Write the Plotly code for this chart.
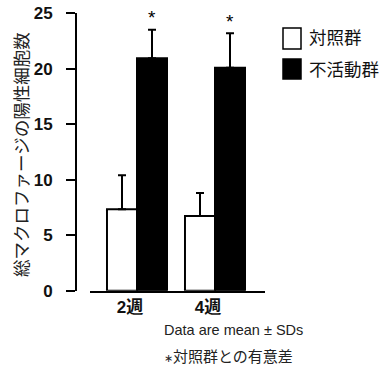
import plotly.graph_objects as go

categories = ["2週", "4週"]
control_mean = [7.33, 6.73]
control_sd = [3.07, 2.07]
inactive_mean = [20.96, 20.1]
inactive_sd = [2.55, 3.1]
y_ticks = [0, 5, 10, 15, 20, 25]
series_names = ["対照群", "不活動群"]

W, H = 382, 366
LAT = "Liberation Sans, Arial, 'Noto Sans CJK JP', sans-serif"
CJK = "'Noto Sans CJK JP', sans-serif"

def px(x):
    return x / W

def py(y):
    return 1 - y / H

bargap = 0.23
fig = go.Figure()
fig.add_bar(
    x=categories, y=control_mean, name=series_names[0],
    marker=dict(color="white", line=dict(color="black", width=2)),
    error_y=dict(type="data", array=control_sd, arrayminus=[0] * len(control_sd),
                 symmetric=False, color="black", thickness=2, width=4),
)
fig.add_bar(
    x=categories, y=inactive_mean, name=series_names[1],
    marker=dict(color="black", line=dict(color="black", width=2)),
    error_y=dict(type="data", array=inactive_sd, arrayminus=[0] * len(inactive_sd),
                 symmetric=False, color="black", thickness=2, width=4),
)

offset = (1 - bargap) / 4
annotations = []
for i, (m, s) in enumerate(zip(inactive_mean, inactive_sd)):
    annotations.append(dict(x=i + offset, y=m + s, xref="x", yref="y", text="*",
                            showarrow=False, yanchor="middle", yshift=12,
                            font=dict(size=19, family=LAT, color="black")))

# y-axis title
annotations.append(dict(x=px(20), y=py(155), xref="paper", yref="paper",
                        text="総マクロファージの陽性細胞数", textangle=-90, showarrow=False,
                        xanchor="center", yanchor="middle",
                        font=dict(size=17.5, family=CJK, color="#222")))
# legend
legend_rows = [(series_names[0], "white", 28, 49, 36), (series_names[1], "black", 59, 79, 68)]
shapes = []
for name, col, y0, y1, yc in legend_rows:
    shapes.append(dict(type="rect", xref="paper", yref="paper", x0=px(283), x1=px(301),
                       y0=py(y1), y1=py(y0), fillcolor=col, line=dict(color="black", width=1.5)))
    annotations.append(dict(x=px(307), y=py(yc), xref="paper", yref="paper", text=name,
                            showarrow=False, xanchor="left", yanchor="middle",
                            font=dict(size=17.5, family=CJK, color="#111")))
# notes
annotations.append(dict(x=px(162), y=py(330), xref="paper", yref="paper",
                        text="Data are mean ± SDs", showarrow=False, xanchor="left",
                        yanchor="middle", font=dict(size=14.5, family=LAT, color="#222")))
annotations.append(dict(x=px(162), y=py(355), xref="paper", yref="paper",
                        text="<span style='font-size:11px'>∗</span>対照群との有意差",
                        showarrow=False, xanchor="left",
                        yanchor="middle", font=dict(size=15, family=CJK, color="#222")))

fig.update_layout(
    width=W, height=H, margin=dict(l=0, r=0, t=0, b=0),
    paper_bgcolor="white", plot_bgcolor="white",
    barmode="group", bargap=bargap, bargroupgap=0, showlegend=False,
    hovermode=False,
    annotations=annotations, shapes=shapes,
    xaxis=dict(domain=[px(90), px(265)], range=[-0.6026, 1.641], type="category",
               showline=True, linecolor="black", linewidth=2, ticks="",
               showgrid=False, zeroline=False, automargin=False,
               tickfont=dict(size=17, family=LAT, color="#111", weight="bold"),
               ticklabelshift=-7, ticklabeloverflow="allow"),
    yaxis=dict(domain=[py(290.7), py(13.3)], range=[0, 25], anchor="free", position=px(76),
               tickvals=y_ticks, showline=True, linecolor="black", linewidth=2,
               ticks="outside", ticklen=9, tickwidth=2, tickcolor="black",
               showgrid=False, zeroline=False, automargin=False,
               tickfont=dict(size=17, family=LAT, color="#111", weight="bold"),
               ticklabelstandoff=10, ticklabeloverflow="allow"),
)

fig.write_html(
    "out.html",
    config={"displayModeBar": False, "staticPlot": True},
    post_script="document.body.style.margin='0px';document.body.style.overflow='hidden';",
)
